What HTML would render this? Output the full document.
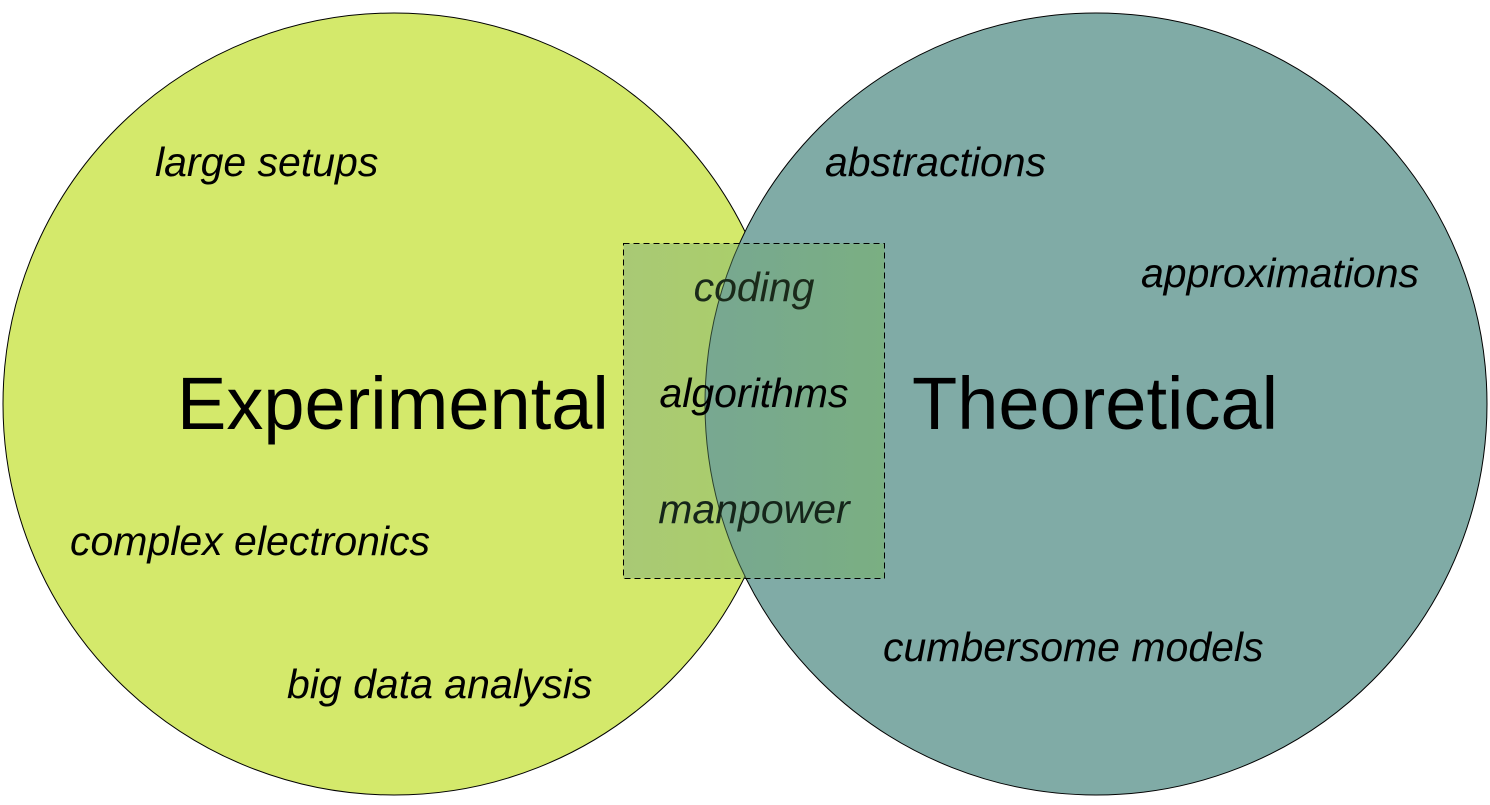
<!DOCTYPE html>
<html><head><meta charset="utf-8"><style>
html,body{margin:0;padding:0;background:#fff;}
svg{display:block;}
text{font-family:"Liberation Sans",sans-serif;}
.i{font-style:italic;font-size:41px;}
</style></head><body>
<svg width="1490" height="805" viewBox="0 0 1490 805">
<defs>
<linearGradient id="g" x1="0" x2="1" y1="0" y2="0">
<stop offset="0" stop-color="rgb(104,153,132)" stop-opacity="0.4"/>
<stop offset="1" stop-color="rgb(113,181,76)" stop-opacity="0.4"/>
</linearGradient>
</defs>
<circle cx="394" cy="404" r="391" fill="#d4e96b" stroke="#000" stroke-width="1"/>
<circle cx="1096" cy="404" r="391" fill="#80aba6" stroke="#000" stroke-width="1"/>
<text class="i" x="155" y="176">large setups</text>
<text class="i" x="70" y="555">complex electronics</text>
<text class="i" x="287" y="698">big data analysis</text>
<text class="i" x="825" y="176">abstractions</text>
<text class="i" x="1141" y="287">approximations</text>
<text class="i" x="883" y="661">cumbersome models</text>
<text x="177" y="429" font-size="74">Experimental</text>
<text x="912" y="429" font-size="74">Theoretical</text>
<rect x="623.5" y="243.5" width="261" height="335" fill="url(#g)" stroke="#000" stroke-width="1" stroke-dasharray="6,4"/>
<text class="i" x="754" y="301" text-anchor="middle" fill="#1a2a1a">coding</text>
<text class="i" x="754" y="407" text-anchor="middle">algorithms</text>
<text class="i" x="754" y="523" text-anchor="middle" fill="#15251a">manpower</text>
</svg>
</body></html>
